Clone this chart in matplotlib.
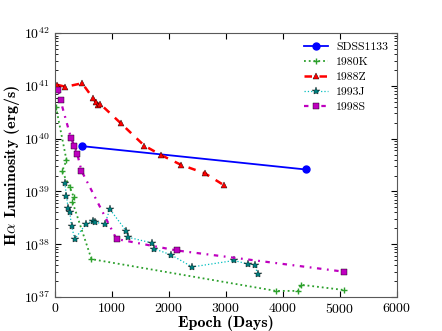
import matplotlib
matplotlib.use('Agg')
import matplotlib.pyplot as plt

plt.rcParams['font.family'] = 'serif'
plt.rcParams['font.serif'] = ['cmr10']
plt.rcParams['mathtext.fontset'] = 'cm'
plt.rcParams['axes.formatter.use_mathtext'] = True
plt.rcParams['xtick.direction'] = 'in'
plt.rcParams['ytick.direction'] = 'in'
plt.rcParams['xtick.top'] = True
plt.rcParams['ytick.right'] = True

# epochs (days) and H-alpha luminosities (erg/s)
sdss_t = [480, 4400]
sdss_L = [7.2e39, 2.6e39]

k80_t = [20, 205, 128, 263, 333, 310, 643, 3877, 4269, 4316, 5076]
k80_L = [4.0e40, 3.9e39, 2.4e39, 1.2e39, 7.8e38, 6.3e38, 5.2e37, 1.3e37, 1.3e37, 1.7e37, 1.35e37]

z88_t = [40, 187, 480, 672, 719, 760, 790, 1158, 1567, 1860, 2210, 2632, 2971]
z88_L = [1.05e41, 9.6e40, 1.12e41, 5.8e40, 4.9e40, 4.4e40, 4.6e40, 1.95e40, 7.4e39, 4.9e39, 3.2e39, 2.2e39, 1.3e39]

j93_t = [175, 205, 234, 263, 293, 351, 544, 672, 708, 877, 965, 1257, 1287,
         1708, 1737, 2035, 2409, 3146, 3380, 3509, 3556]
j93_L = [1.45e39, 8.2e38, 4.8e38, 4.0e38, 2.2e38, 1.25e38, 2.4e38, 2.8e38, 2.6e38, 2.4e38,
         4.6e38, 1.75e38, 1.35e38, 1.05e38, 8.2e37, 6.3e37, 3.7e37, 4.9e37, 4.2e37, 4.1e37, 2.7e37]

s98_t = [58, 100, 281, 339, 392, 468, 1082, 2135, 5076]
s98_L = [8.5e40, 5.3e40, 1.05e40, 7.4e39, 5.2e39, 2.45e39, 1.25e38, 7.6e37, 3.0e37]

fig = plt.figure(figsize=(4.42, 3.31), dpi=100)
ax = fig.add_axes([0.124, 0.103, 0.774, 0.797])

ax.plot(sdss_t, sdss_L, 'b-', marker='o', ms=5, lw=1.3, label='SDSS1133')
ax.plot(k80_t, k80_L, color='#2ca02c', ls=':', marker='+', ms=5, lw=1.3, label='1980K')
ax.plot(z88_t, z88_L, 'r', ls=(0, (3, 3)), marker='^', ms=5, lw=1.8, mec='k', mew=0.3, label='1988Z')
ax.plot(j93_t, j93_L, 'c:', marker='*', ms=6, lw=0.9, mfc='teal', mec='k', mew=0.3, label='1993J')
ax.plot(s98_t, s98_L, 'm', ls=(0, (2, 2.5, 0.8, 2.5)), marker='s', ms=5, lw=1.6, mec='k', mew=0.3, label='1998S')

ax.set_yscale('log')
ax.set_xlim(0, 6000)
ax.set_ylim(1e37, 1e42)
ax.tick_params(labelsize=10, length=4)
ax.tick_params(which='minor', length=2)
for s in ax.spines.values():
    s.set_color('0.35')

ax.set_xlabel('Epoch (Days)', fontname='cmb10', fontsize=11.5, labelpad=0)
ax.set_ylabel(r'H$\alpha$ Luminosity (erg/s)', fontname='cmb10', fontsize=11.5, labelpad=1)
ax.legend(loc='upper right', frameon=False, fontsize=8.5, numpoints=1, handlelength=2.0,
          borderaxespad=0.35, labelspacing=0.4, handletextpad=0.7)

fig.savefig('out.png', dpi=100)
